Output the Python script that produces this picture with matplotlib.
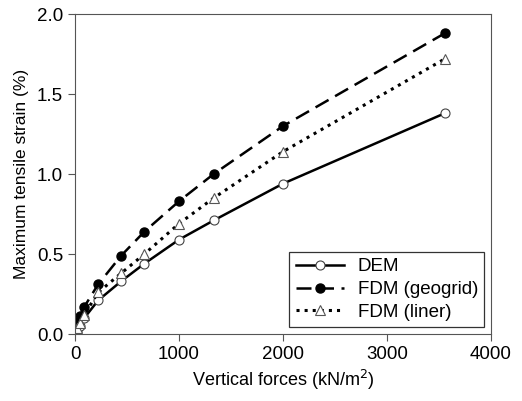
import numpy as np
import matplotlib
matplotlib.use('Agg')
import matplotlib.pyplot as plt

plt.rcParams['font.family'] = ['Liberation Sans', 'DejaVu Sans']

# vertical forces (kN/m2)
forces = [0, 22, 44, 89, 222, 444, 667, 1000, 1333, 2000, 3556]
# maximum tensile strain (%)
dem = [0.0, 0.02, 0.05, 0.10, 0.21, 0.33, 0.44, 0.59, 0.71, 0.94, 1.38]
fdm_geogrid = [0.0, 0.07, 0.11, 0.17, 0.31, 0.49, 0.64, 0.83, 1.00, 1.30, 1.88]
fdm_liner = [0.0, 0.04, 0.07, 0.12, 0.26, 0.38, 0.50, 0.69, 0.85, 1.14, 1.72]

fig = plt.figure(figsize=(5.22, 4.01), dpi=100)
ax = fig.add_axes([0.1437, 0.167, 0.797, 0.798])

ax.plot(forces, dem, '-', color='black', lw=1.8, marker='o', ms=6.5,
        mfc='white', mec='#444444', mew=0.8, label='DEM')
ax.plot(forces, fdm_geogrid, '--', color='black', lw=1.8, dashes=(6, 3), marker='o', ms=6.5,
        mfc='black', mec='black', label='FDM (geogrid)')
ax.plot(forces, fdm_liner, ':', color='black', lw=2.2, marker='^', ms=6.5,
        mfc='white', mec='#555555', mew=0.8, label='FDM (liner)')

ax.set_xlim(0, 4000)
ax.set_ylim(0, 2.0)
ax.set_xticks(np.arange(0, 4001, 1000))
ax.set_yticks(np.arange(0, 2.01, 0.5))
ax.yaxis.set_major_formatter(matplotlib.ticker.FormatStrFormatter('%.1f'))
ax.tick_params(direction='out', labelsize=13.5, length=5, width=0.8, color='#555555')
for s in ax.spines.values():
    s.set_color('#555555')
    s.set_linewidth(0.8)

ax.set_xlabel('Vertical forces (kN/m$^2$)', fontsize=13)
ax.set_ylabel('Maximum tensile strain (%)', fontsize=12.5, labelpad=6)

leg = ax.legend(loc='lower right', fontsize=13.5, frameon=True, fancybox=False,
                edgecolor='black', handlelength=2.6, borderpad=0.35, labelspacing=0.3,
                borderaxespad=0.35, numpoints=1, handletextpad=0.7)
leg.get_frame().set_linewidth(0.9)

fig.savefig('out.png', dpi=100)
